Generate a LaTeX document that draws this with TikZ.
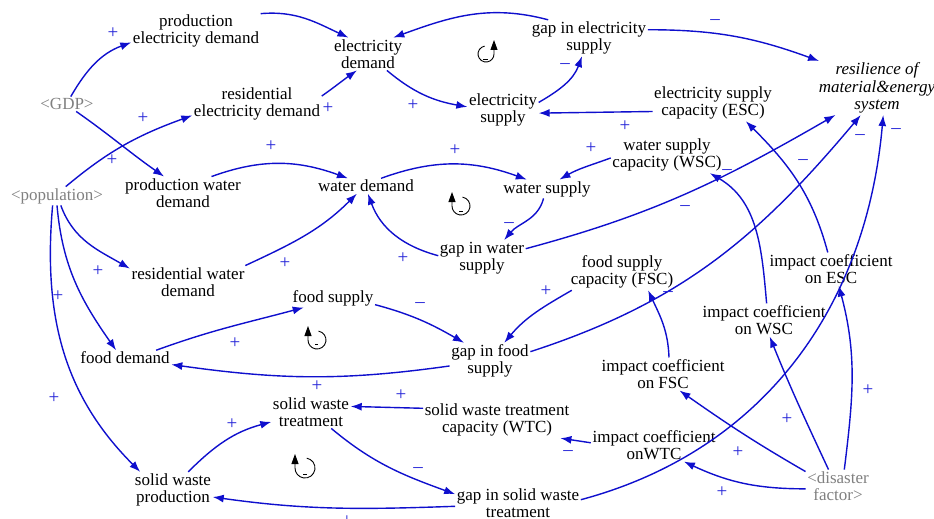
\documentclass[tikz,border=0pt]{standalone}
\usepackage{fontspec}
\setmainfont{Liberation Serif}
\usetikzlibrary{arrows.meta}
\definecolor{lnblue}{RGB}{15,15,205}
\definecolor{sgblue}{RGB}{35,35,215}
\definecolor{shadowgray}{RGB}{128,128,128}
\begin{document}
\begin{tikzpicture}[x=1pt,y=1pt,
  var/.style={align=center, inner sep=1.5pt, font=\fontsize{17}{17.5}\selectfont},
  shadowvar/.style={var, text=shadowgray},
  cflow/.style={draw=lnblue, line width=1.4pt, -{Latex[length=11pt,width=8pt]}},
  sgn/.style={text=sgblue, font=\fontsize{19}{19}\selectfont, inner sep=0pt},
  loopsym/.style={draw=black, line width=0.9pt, -{Triangle[length=10pt,width=7pt]}}
]
\useasboundingbox (0,0) rectangle (934,-519);

% variables
\node[var] (ped) at (196,-31) {production\\electricity demand};
\node[var] (ed) at (368,-54) {electricity\\demand};
\node[var] (ges) at (589,-38) {gap in electricity\\supply};
\node[var, font=\fontsize{17}{17.5}\selectfont\itshape] (res) at (877,-88) {resilience of\\material\&energy\\system};
\node[shadowvar] (gdp) at (67,-104) {<GDP>};
\node[var] (red) at (257,-104) {residential\\electricity demand};
\node[var] (es) at (503,-110) {electricity\\supply};
\node[var] (esc) at (713,-103) {electricity supply\\capacity (ESC)};
\node[var] (wsc) at (667,-155) {water supply\\capacity (WSC)};
\node[shadowvar] (pop) at (57,-196) {<population>};
\node[var] (pwd) at (183,-193) {production water\\demand};
\node[var] (wd) at (366,-186) {water demand};
\node[var] (ws) at (547,-189) {water supply};
\node[var] (gws) at (482,-258) {gap in water\\supply};
\node[var] (rwd) at (188,-282) {residential water\\demand};
\node[var] (iesc) at (831,-269) {impact coefficient\\on ESC};
\node[var] (fsc) at (622,-272) {food supply\\capacity (FSC)};
\node[var] (fs) at (333,-298) {food supply};
\node[var] (iwsc) at (764,-320) {impact coefficient\\on WSC};
\node[var] (fd) at (125,-358) {food demand};
\node[var] (gfs) at (490,-361) {gap in food\\supply};
\node[var] (ifsc) at (663,-374) {impact coefficient\\on FSC};
\node[var] (swt) at (311,-412) {solid waste\\treatment};
\node[var] (wtc) at (497,-420) {solid waste treatment\\capacity (WTC)};
\node[var] (iwtc) at (654,-445) {impact coefficient\\onWTC};
\node[shadowvar] (df) at (838,-486) {<disaster\\factor>};
\node[var] (swp) at (173,-490) {solid waste\\production};
\node[var] (gswt) at (518,-503) {gap in solid waste\\treatment};

% connectors
\draw[cflow] (gdp.63) to[out=60,in=200] (ped.190);
\draw[cflow] (gdp.-39) to[out=-35,in=145] (pwd.139);
\draw[cflow] (pop.47) to[out=40,in=200] (red.190);
\draw[cflow] (ped.15) to[out=5,in=155] (ed.140);
\draw[cflow] (red.7) to[out=35,in=215] (ed.236);
\draw[cflow] (ed.-41) to[out=-40,in=170] (es.175);
\draw[cflow] (ges.156) to[out=165,in=20] (ed.33);
\draw[cflow] (es.12) to[out=30,in=250] (ges.249);
\draw[cflow] (esc.188) -- (es.-5);
\draw[cflow] (ges.8) to[out=0,in=160] (res.155);
\draw[cflow] (wsc.183) to[out=200,in=30] (ws.37);
\draw[cflow] (pwd.30) to[out=20,in=160] (wd.157);
\draw[cflow] (wd.27) to[out=20,in=160] (ws.155);
\draw[cflow] (ws.250) to[out=-105,in=50] (gws.39);
\draw[cflow] (gws.177) to[out=165,in=-70] (wd.-76);
\draw[cflow] (rwd.16) to[out=25,in=225] (wd.220);
\draw[cflow] (gws.12) to[out=15,in=210] (res.213);
\draw[cflow] (pop.-68) to[out=-70,in=150] (rwd.167);
\draw[cflow] (pop.-90) to[out=-85,in=125] (fd.139);
\draw[cflow] (pop.245) to[out=-95,in=135] (swp.151);
\draw[cflow] (fd.14) to[out=20,in=195] (fs.198);
\draw[cflow] (fs.-9) to[out=-15,in=150] (gfs.145);
\draw[cflow] (gfs.187) to[out=188,in=-8] (fd.-8);
\draw[cflow] (fsc.200) to[out=210,in=50] (gfs.52);
\draw[cflow] (gfs.13) to[out=18,in=230] (res.239);
\draw[cflow] (iesc.101) to[out=105,in=-45] (esc.-29);
\draw[cflow] (iwsc.81) to[out=95,in=-30] (wsc.-23);
\draw[cflow] (ifsc.70) to[out=92,in=-65] (fsc.-35);
\draw[cflow] (iwtc.178) -- (wtc.-16);
\draw[cflow] (wtc.171) -- (swt.8);
\draw[cflow] (swp.50) to[out=45,in=195] (swt.194);
\draw[cflow] (swt.-39) to[out=-40,in=160] (gswt.172);
\draw[cflow] (gswt.183) to[out=182,in=-8] (swp.-10);
\draw[cflow] (gswt.3) to[out=15,in=-95] (res.-77);
\draw[cflow] (df.69) to[out=83,in=-75] (iesc.-65);
\draw[cflow] (df.120) to[out=115,in=-68] (iwsc.-71);
\draw[cflow] (df.156) to[out=150,in=-35] (ifsc.-45);
\draw[cflow] (df.185) to[out=180,in=-25] (iwtc.-29);

% polarity signs
\node[sgn] (s1) at (113,-33) {+};
\node[sgn] (s2) at (143,-118) {+};
\node[sgn] (s3) at (112,-160) {+};
\node[sgn] (s4) at (328,-108) {+};
\node[sgn] (s5) at (413,-105) {+};
\node[sgn] (s6) at (565,-66) {–};
\node[sgn] (s7) at (625,-126) {+};
\node[sgn] (s8) at (715,-22) {–};
\node[sgn] (s9) at (591,-148) {+};
\node[sgn] (s10) at (271,-146) {+};
\node[sgn] (s11) at (455,-150) {+};
\node[sgn] (s12) at (509,-225) {–};
\node[sgn] (s13) at (403,-258) {+};
\node[sgn] (s14) at (285,-263) {+};
\node[sgn] (s15) at (685,-208) {–};
\node[sgn] (s16) at (98,-271) {+};
\node[sgn] (s17) at (58,-296) {+};
\node[sgn] (s18) at (54,-398) {+};
\node[sgn] (s19) at (235,-343) {+};
\node[sgn] (s20) at (420,-305) {–};
\node[sgn] (s21) at (546,-291) {+};
\node[sgn] (s22) at (860,-137) {–};
\node[sgn] (s23) at (803,-162) {–};
\node[sgn] (s24) at (727,-172) {–};
\node[sgn] (s25) at (668,-294) {–};
\node[sgn] (s26) at (568,-453) {–};
\node[sgn] (s27) at (401,-395) {+};
\node[sgn] (s28) at (232,-424) {+};
\node[sgn] (s29) at (418,-470) {–};
\node[sgn] (s30) at (347,-521) {+};
\node[sgn] (s31) at (896,-131) {–};
\node[sgn] (s32) at (868,-390) {+};
\node[sgn] (s33) at (787,-419) {+};
\node[sgn] (s34) at (738,-452) {+};
\node[sgn] (s35) at (722,-492) {+};
\node[sgn] (s36) at (317,-386) {+};

% loop symbols
\draw[loopsym] (486,-54) ++(100:8) arc[start angle=100,end angle=360,radius=8] -- ++(0,14);
\draw[line width=0.7pt] (483,-59) -- (488,-59);
\draw[loopsym] (461,-206) ++(80:9) arc[start angle=80,end angle=-180,radius=9] -- ++(0,14);
\draw[line width=0.7pt] (459,-211) -- (463,-211);
\draw[loopsym] (317,-340) ++(80:9) arc[start angle=80,end angle=-180,radius=9] -- ++(0,14);
\draw[line width=0.7pt] (315,-344) -- (318,-344);
\draw[loopsym] (305,-468) ++(80:10) arc[start angle=80,end angle=-180,radius=10] -- ++(0,14);
\draw[line width=0.7pt] (303,-474) -- (307,-474);
\end{tikzpicture}
\end{document}
